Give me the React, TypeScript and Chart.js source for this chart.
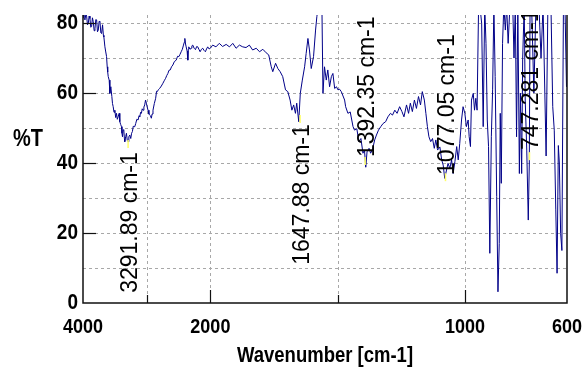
import React, { useEffect, useRef } from "react";
import { Chart, registerables } from "chart.js";

Chart.register(...registerables);

// Wavenumber (cm-1), descending
const wavenumbers: number[] = [
  4000, 3985, 3969, 3955, 3943, 3930, 3917, 3904, 3891, 3878, 3865, 3852, 3839, 3825, 3812, 3799,
  3786, 3773, 3760, 3747, 3734, 3720, 3708, 3693, 3680, 3672, 3656, 3645, 3630, 3620, 3612, 3604,
  3589, 3578, 3563, 3547, 3537, 3526, 3513, 3500, 3487, 3474, 3461, 3448, 3432, 3422, 3408, 3396,
  3388, 3380, 3370, 3359, 3350, 3344, 3330, 3318, 3305, 3292, 3280, 3266, 3250, 3237, 3224, 3211,
  3198, 3185, 3172, 3155, 3135, 3120, 3109, 3095, 3083, 3070, 3057, 3044, 3031, 3018, 3005, 2992,
  2979, 2965, 2953, 2940, 2927, 2915, 2901, 2880, 2859, 2845, 2833, 2815, 2797, 2770, 2745, 2725,
  2703, 2685, 2667, 2650, 2630, 2610, 2589, 2565, 2536, 2515, 2495, 2478, 2458, 2440, 2422, 2410,
  2401, 2390, 2380, 2365, 2354, 2346, 2339, 2320, 2302, 2290, 2276, 2255, 2234, 2215, 2198, 2180,
  2161, 2140, 2120, 2100, 2078, 2060, 2042, 2020, 2000,
  1991, 1978, 1965, 1952, 1938, 1925, 1912, 1899, 1886, 1873, 1860, 1847, 1834, 1820, 1807, 1794,
  1781, 1771, 1761, 1755, 1744, 1735, 1726, 1716, 1705, 1696, 1687, 1680, 1673, 1666, 1661, 1653,
  1647, 1639, 1630, 1624, 1617, 1611, 1604, 1595, 1587, 1582, 1578, 1568, 1562, 1558, 1552, 1545,
  1539, 1532, 1525, 1519, 1512, 1505, 1499, 1493, 1486, 1473, 1469, 1460, 1451, 1440, 1434, 1425,
  1417, 1409, 1401, 1395, 1390, 1385, 1377, 1371, 1364, 1355, 1348, 1340, 1331, 1322, 1312, 1303,
  1293, 1285, 1276, 1267, 1257, 1248, 1240, 1230, 1222, 1215, 1207, 1199, 1191, 1183, 1175, 1168,
  1160, 1154, 1148, 1142, 1135, 1128, 1121, 1115, 1108, 1099, 1092, 1086, 1080, 1073, 1067, 1060,
  1053, 1047, 1040, 1033, 1027, 1021, 1014, 1008, 1001, 995, 988, 984, 979, 975, 968, 963,
  958, 953, 947, 942, 935, 929, 923, 918, 913, 908, 903, 897, 892, 887, 882, 876,
  871, 866, 862, 858, 853, 848, 842, 837, 831, 824, 813, 808, 803, 798, 793, 787,
  783, 778, 774, 768, 764, 758, 752, 748, 745, 739, 730, 722, 710, 702, 694, 682,
  675, 663, 656, 650, 644, 639, 634, 630, 625, 620, 614, 608, 602, 600,
];

// %T at each wavenumber
const transmittance: number[] = [
  83.5, 81.5, 80.9, 82.5, 82, 79.5, 79.9, 82, 81.3, 78.8, 79, 81.5, 80.4, 77.8, 78.5, 81,
  80.9, 77.5, 78, 80.5, 80.4, 77.2, 77, 79.5, 76.5, 76, 73.2, 72, 70.4, 67.5, 66, 64.7,
  63.7, 59.9, 61.8, 59, 57, 56.1, 54.5, 55.1, 53, 54.2, 52.5, 53.2, 54.2, 51.8, 51, 50.4,
  48.5, 47.5, 49.5, 49.4, 47, 46.1, 47.5, 48.5, 46.5, 46.1, 47.5, 48, 47, 48.5, 49, 50.5,
  50.4, 50.5, 51.3, 52.5, 52.3, 53.5, 53.2, 54.5, 54.2, 55.5, 55.1, 56, 56.6, 58, 57.1, 56,
  55.1, 54, 53.7, 53.5, 52.8, 54, 55.1, 57, 58.5, 60.5, 60.4, 61, 61.3, 62, 62.8, 63.5,
  64.2, 65, 65.6, 66.5, 66.6, 67.5, 68, 69, 69.4, 70.5, 70.4, 71, 71.8, 72.5, 73.7, 74.5,
  75.6, 74, 73.2, 72, 69.4, 72.5, 73.2, 72.5, 72.8, 73.5, 73.7, 72.8, 72.4, 73.3, 73.2, 72.5,
  71.8, 72.5, 72.8, 72.2, 71.8, 72.6, 73.2, 72.6, 72.8,
  73.7, 73.2, 74.2, 73.3, 73.9, 73.2, 74.2, 72.8, 73.7, 73.2, 73, 73.7, 72.3, 72.8, 71.8, 72.5,
  71.5, 70.9, 67.5, 66.1, 68.5, 67, 66.1, 64.7, 60.9, 60.4, 58, 55.1, 56.6, 54.2, 57.1, 51.8,
  59.9, 63.7, 67.5, 71.3, 75.6, 72.3, 67, 70.4, 78, 81.8, 84, 84, 84, 59.9, 67.5, 63.7,
  66.6, 61.8, 64.7, 65.6, 61.3, 61.8, 60.9, 61.1, 60.4, 58, 56.1, 54.2, 54.6, 50.4, 49.4, 49.8,
  46.1, 47, 42.8, 43.7, 38.8, 43.2, 44.2, 42.8, 43.7, 46.6, 48, 49.4, 50.4, 51.3, 51.8, 53.2,
  54.2, 53.7, 55.1, 54.2, 56.1, 54.7, 53.2, 56.6, 54.2, 57.1, 54.7, 58, 55.6, 59, 56.6, 60.4,
  58, 54.2, 50.4, 47.5, 46.1, 47, 44.2, 46.6, 43.7, 44.6, 40.9, 39.4, 35.6, 38, 39.9, 38.5,
  40.9, 37, 40.4, 44.7, 40.9, 45.6, 52.3, 56.1, 54.2, 50.4, 52.3, 47.5, 44.7, 58, 59.9, 55.1,
  58.5, 55.1, 85, 85, 79.9, 50.4, 85, 74.2, 52.3, 44.7, 14.2, 47.5, 60.9, 85, 64.7, 30.4,
  3.2, 17, 54.2, 34.2, 74.2, 85, 78, 85, 74.2, 85, 85, 70, 85, 47.5, 85, 37,
  60, 37, 70, 85, 58, 43.7, 23.7, 40, 85, 85, 60, 85, 85, 70, 85, 42,
  85, 85, 56.1, 49.4, 26.6, 8.5, 45, 40, 19.9, 15, 85, 85, 61.8, 62,
];

// Annotated peaks
const peakWavenumbers: number[] = [3291.89, 1647.88, 1392.35, 1077.05, 747.281];
const peakMarkerT: number[] = [46.6, 53.7, 41.7, 37.1, 43.1];
const peakLabelStartT: number[] = [2.9, 10.9, 41.7, 36.6, 43.7];

// Axis ticks
const xTickValues: number[] = [4000, 3000, 2000, 1500, 1000, 600];
const xTickLabels: string[] = ["4000", "", "2000", "", "1000", "600"];
const yTickValues: number[] = [0, 10, 20, 30, 40, 50, 60, 70, 80];
const yTickLabels: string[] = ["0", "", "20", "", "40", "", "60", "", "80"];

const xTitle = "Wavenumber [cm-1]";
const yTitle = "%T";

// Split axis: 4000-2000 compressed 4x relative to 2000-600
const toAxis = (w: number) => (w >= 2000 ? (4000 - w) / 4 : 500 + (2000 - w));

const FONT = '"Liberation Sans", Arial, Helvetica, sans-serif';

function seg(ctx: CanvasRenderingContext2D, x1: number, y1: number, x2: number, y2: number) {
  ctx.beginPath();
  ctx.moveTo(x1, y1);
  ctx.lineTo(x2, y2);
  ctx.stroke();
}

function stretchedText(
  ctx: CanvasRenderingContext2D,
  text: string,
  x: number,
  y: number,
  align: CanvasTextAlign,
  sy: number
) {
  ctx.save();
  ctx.translate(x, y);
  ctx.scale(1, sy);
  ctx.textAlign = align;
  ctx.textBaseline = "middle";
  ctx.fillText(text, 0, 0);
  ctx.restore();
}

const ftirPlugin = {
  id: "ftirDecor",
  beforeDatasetsDraw(chart: any) {
    const { ctx, chartArea: a, scales } = chart;
    const x = scales.x;
    const y = scales.y;
    ctx.save();
    ctx.strokeStyle = "#a8a8a8";
    ctx.lineWidth = 1;
    ctx.setLineDash([3, 3]);
    yTickValues.forEach((v) => {
      if (v === 0) return;
      const py = Math.round(y.getPixelForValue(v)) + 0.5;
      seg(ctx, a.left, py, a.right, py);
    });
    xTickValues.forEach((w, i) => {
      if (i === 0 || i === xTickValues.length - 1) return;
      const px = Math.round(x.getPixelForValue(toAxis(w))) + 0.5;
      seg(ctx, px, a.top, px, a.bottom);
    });
    ctx.restore();
  },
  afterDatasetsDraw(chart: any) {
    const { ctx, chartArea: a, scales } = chart;
    const x = scales.x;
    const y = scales.y;

    // peak markers and labels (clipped to plot)
    ctx.save();
    ctx.beginPath();
    ctx.rect(a.left, a.top, a.right - a.left, a.bottom - a.top);
    ctx.clip();
    peakWavenumbers.forEach((w, i) => {
      const px = x.getPixelForValue(toAxis(w));
      const py = y.getPixelForValue(peakMarkerT[i]);
      ctx.strokeStyle = "#ffff66";
      ctx.lineWidth = 1.5;
      seg(ctx, px, py, px, py + 8);
      ctx.save();
      ctx.translate(px + 2.5, y.getPixelForValue(peakLabelStartT[i]));
      ctx.rotate(-Math.PI / 2);
      ctx.font = `23px ${FONT}`;
      ctx.fillStyle = "#000";
      ctx.textAlign = "left";
      ctx.textBaseline = "middle";
      ctx.fillText(`${w} cm-1`, 0, 0);
      ctx.restore();
    });
    ctx.restore();

    // axes lines (left, bottom, right)
    ctx.save();
    ctx.strokeStyle = "#111";
    ctx.lineWidth = 1.5;
    ctx.beginPath();
    ctx.moveTo(a.left, a.top);
    ctx.lineTo(a.left, a.bottom);
    ctx.lineTo(a.right, a.bottom);
    ctx.lineTo(a.right, a.top);
    ctx.stroke();

    // inward ticks
    ctx.lineWidth = 1.2;
    yTickValues.forEach((v, i) => {
      if (v === 0 || !yTickLabels[i]) return;
      const py = Math.round(y.getPixelForValue(v)) + 0.5;
      seg(ctx, a.left, py, a.left + 13, py);
    });
    xTickValues.forEach((w, i) => {
      if (i === 0 || i === xTickValues.length - 1) return;
      const px = Math.round(x.getPixelForValue(toAxis(w))) + 0.5;
      const len = xTickLabels[i] ? 13 : 8;
      seg(ctx, px, a.bottom, px, a.bottom - len);
    });

    // tick labels
    ctx.fillStyle = "#000";
    ctx.font = `bold 19px ${FONT}`;
    yTickValues.forEach((v, i) => {
      if (!yTickLabels[i]) return;
      stretchedText(ctx, yTickLabels[i], a.left - 5, y.getPixelForValue(v), "right", 1.18);
    });
    ctx.font = `bold 18px ${FONT}`;
    xTickValues.forEach((w, i) => {
      if (!xTickLabels[i]) return;
      stretchedText(ctx, xTickLabels[i], x.getPixelForValue(toAxis(w)), a.bottom + 24.5, "center", 1.15);
    });

    // titles
    ctx.font = `bold 18.5px ${FONT}`;
    stretchedText(ctx, xTitle, (a.left + a.right) / 2, a.bottom + 53, "center", 1.15);
    ctx.font = `bold 20px ${FONT}`;
    stretchedText(ctx, yTitle, 28, 140, "center", 1.15);
    ctx.restore();
  },
};

export default function App() {
  const canvasRef = useRef<HTMLCanvasElement | null>(null);

  useEffect(() => {
    const canvas = canvasRef.current;
    if (!canvas) return;
    const points = wavenumbers.map((w, i) => ({ x: toAxis(w), y: transmittance[i] }));
    const chart = new Chart(canvas, {
      type: "line",
      data: {
        datasets: [
          {
            data: points,
            borderColor: "#000088",
            borderWidth: 1,
            pointRadius: 0,
            tension: 0,
            fill: false,
          },
        ],
      },
      options: {
        animation: false,
        responsive: false,
        maintainAspectRatio: false,
        events: [],
        layout: { padding: { left: 83, top: 15, right: 15, bottom: 64 } },
        plugins: { legend: { display: false }, tooltip: { enabled: false } },
        scales: {
          x: { type: "linear", display: false, min: 0, max: 1900 },
          y: { type: "linear", display: false, min: 0, max: 82.3 },
        },
      },
      plugins: [ftirPlugin],
    } as any);
    return () => chart.destroy();
  }, []);

  return (
    <div style={{ position: "fixed", left: 0, top: 0, width: 582, height: 367, background: "#fff" }}>
      <canvas ref={canvasRef} width={582} height={367} style={{ display: "block" }} />
    </div>
  );
}
